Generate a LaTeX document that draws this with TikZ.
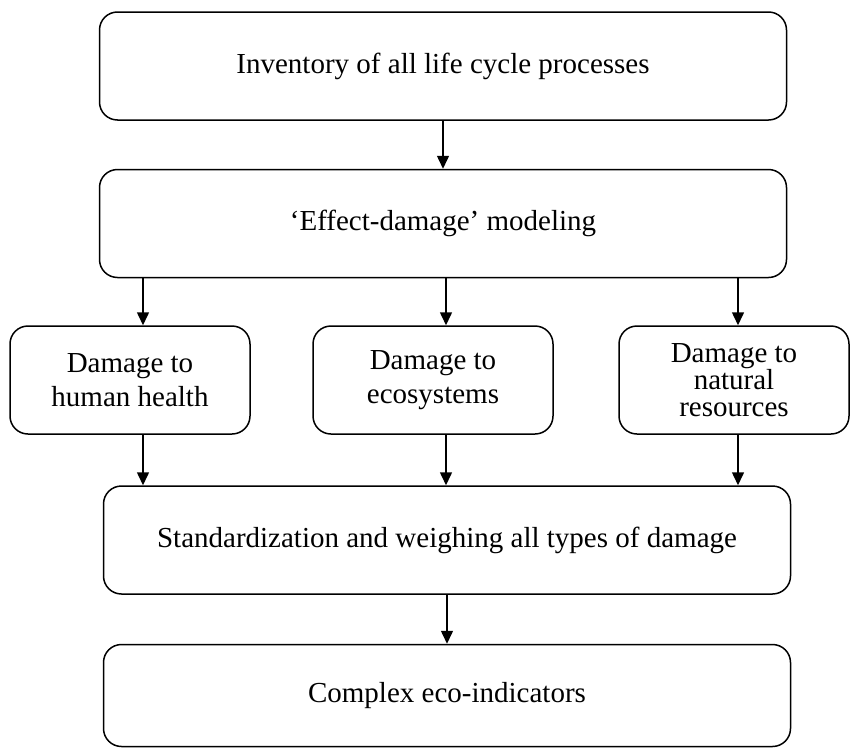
\documentclass[tikz,border=0pt]{standalone}
\usepackage{fontspec}
\setmainfont{Liberation Serif}
\usetikzlibrary{positioning,arrows.meta,calc}

\begin{document}
\begin{tikzpicture}[x=1pt, y=-1pt, line width=1.5pt, >={Triangle[length=13pt,width=12pt]}]
	\tikzstyle{wide} = [rectangle, rounded corners=18pt, minimum width=687pt, minimum height=108pt, align=center, draw=black, font=\fontsize{29}{34}\selectfont]
	\tikzstyle{damage} = [rectangle, rounded corners=18pt, minimum width=240pt, minimum height=108pt, align=center, draw=black, font=\fontsize{29}{34}\selectfont]
	\useasboundingbox (0,0) rectangle (850,747);
	\node (inventory) [wide] at (443,66) {Inventory of all life cycle processes};
	\node (effect) [wide, below=48pt of inventory] {`Effect-damage' modeling};
	\node (health) [damage] at (130,380) {Damage to\\human health};
	\node (ecosys) [damage] at (433,380) {Damage to\\ecosystems};
	\node (natural) [damage, minimum width=230pt, font=\fontsize{29}{27}\selectfont] at (734,380) {Damage to\\natural\\resources};
	\node (standard) [wide] at (447,540) {Standardization and weighing all types of damage};
	\node (complex) [wide, below=49pt of standard, minimum height=102pt] {Complex eco-indicators};

	\coordinate (colA) at (143,0);
	\coordinate (colB) at (446,0);
	\coordinate (colC) at (738,0);

	\draw [->] (inventory) -- (effect);
	\draw [->] (effect.south -| colA) -- (health.north -| colA);
	\draw [->] (effect.south -| colB) -- (ecosys.north -| colB);
	\draw [->] (effect.south -| colC) -- (natural.north -| colC);
	\draw [->] (health.south -| colA) -- (standard.north -| colA);
	\draw [->] (ecosys.south -| colB) -- (standard.north -| colB);
	\draw [->] (natural.south -| colC) -- (standard.north -| colC);
	\draw [->] (standard) -- (complex);
\end{tikzpicture}
\end{document}
